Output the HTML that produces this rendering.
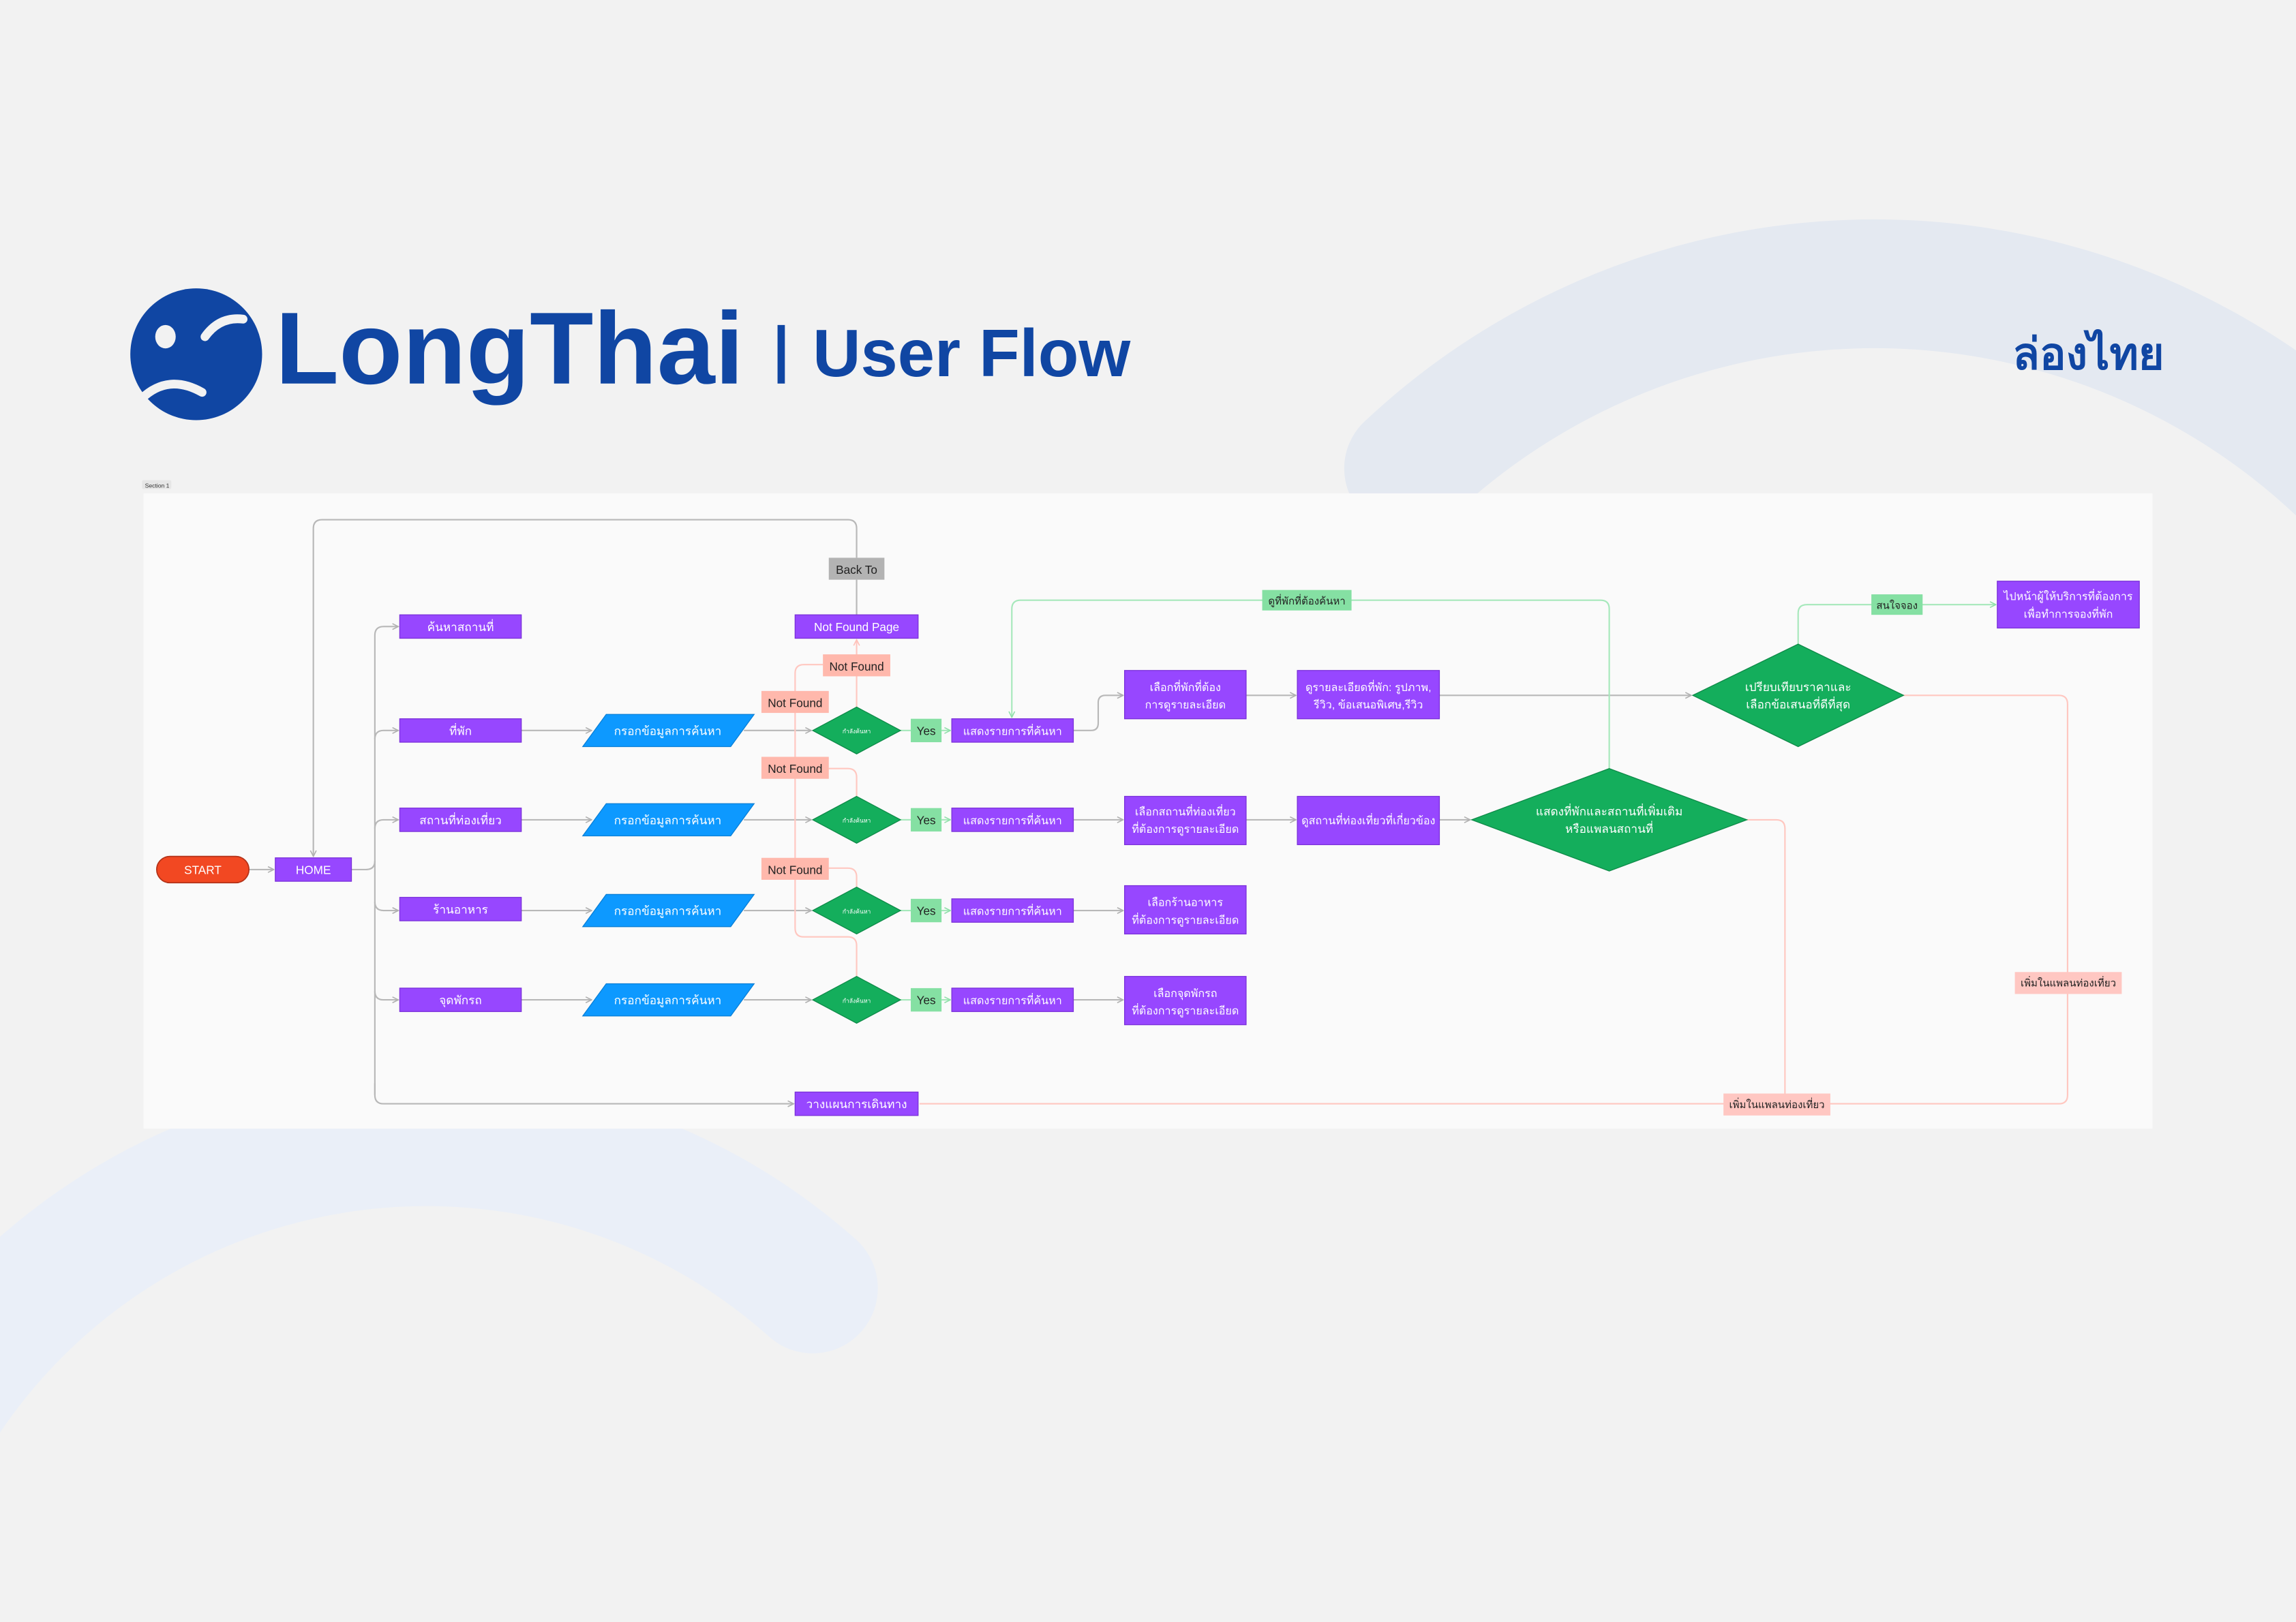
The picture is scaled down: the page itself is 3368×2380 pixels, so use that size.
<!DOCTYPE html>
<html><head><meta charset="utf-8"><style>
html,body{margin:0;padding:0;background:#f2f2f2;width:3368px;height:2380px;overflow:hidden;}
svg{display:block;}
text{font-family:"Liberation Sans","DejaVu Sans",sans-serif;}
</style></head><body>
<svg width="3368" height="2380" viewBox="0 0 1568 1108" xmlns="http://www.w3.org/2000/svg">
<defs>
<marker id="ag" viewBox="0 0 10 10" refX="9" refY="5" markerWidth="5" markerHeight="5" orient="auto"><path d="M1 1L9 5L1 9" fill="none" stroke="#b0b0b0" stroke-width="1.5"/></marker>
<marker id="agr" viewBox="0 0 10 10" refX="9" refY="5" markerWidth="5" markerHeight="5" orient="auto"><path d="M1 1L9 5L1 9" fill="none" stroke="#8fe0a9" stroke-width="1.5"/></marker>
<marker id="ap" viewBox="0 0 10 10" refX="9" refY="5" markerWidth="5" markerHeight="5" orient="auto"><path d="M1 1L9 5L1 9" fill="none" stroke="#ffc0b8" stroke-width="1.5"/></marker>
</defs>
<rect width="1568" height="1108" fill="#f2f2f2"/>
<!-- decorative arcs -->
<path d="M 962 320 A 464 464 0 0 1 1716 499" fill="none" stroke="#e4e9f1" stroke-width="88" stroke-linecap="round"/>
<path d="M -77 1321 A 396 396 0 0 1 555 880" fill="none" stroke="#eaeff8" stroke-width="89" stroke-linecap="round"/>
<!-- logo -->
<circle cx="134" cy="242" r="45" fill="#1046a3"/>
<ellipse cx="113" cy="230" rx="7" ry="8" fill="#f2f2f2"/>
<path d="M140 230 Q150 216 166 218" fill="none" stroke="#f2f2f2" stroke-width="6" stroke-linecap="round"/>
<path d="M97 272 Q115 255 138 268" fill="none" stroke="#f2f2f2" stroke-width="6" stroke-linecap="round"/>
<text x="188" y="262" font-size="70" font-weight="bold" fill="#1046a3" textLength="320" lengthAdjust="spacingAndGlyphs">LongThai</text>
<rect x="531" y="222" width="5" height="40" fill="#1046a3"/>
<text x="555" y="257" font-size="46" font-weight="bold" fill="#1046a3" textLength="217" lengthAdjust="spacingAndGlyphs">User Flow</text>
<text x="1478" y="252" font-size="30" font-weight="bold" fill="#1046a3" text-anchor="end">ล่องไทย</text>
<!-- section -->
<rect x="97" y="328" width="20" height="6" rx="1" fill="#e6e6e6"/>
<text x="99" y="333" font-size="4" fill="#333">Section 1</text>
<rect x="98" y="337" width="1372" height="434" fill="#fafafa"/>

<!-- gray connectors -->
<g fill="none" stroke="#b8b8b8" stroke-width="1">
<path d="M585 381 V361 Q585 355 579 355 H220 Q214 355 214 361 V585" marker-end="url(#ag)"/>
<path d="M585 420 V396"/>
<path d="M170 594 H187" marker-end="url(#ag)"/>
<path d="M240 594 H250 Q256 594 256 588"/>
<path d="M256 748 V434 Q256 428 262 428 H272" marker-end="url(#ag)"/>
<path d="M256 505 Q256 499 262 499 H272" marker-end="url(#ag)"/>
<path d="M256 566 Q256 560 262 560 H272" marker-end="url(#ag)"/>
<path d="M256 616 Q256 622 262 622 H272" marker-end="url(#ag)"/>
<path d="M256 677 Q256 683 262 683 H272" marker-end="url(#ag)"/>
<path d="M256 740 V748 Q256 754 262 754 H542" marker-end="url(#ag)"/>
<path d="M356 499 H404" marker-end="url(#ag)"/><path d="M356 560 H404" marker-end="url(#ag)"/>
<path d="M356 622 H404" marker-end="url(#ag)"/><path d="M356 683 H404" marker-end="url(#ag)"/>
<path d="M508 499 H554" marker-end="url(#ag)"/><path d="M508 560 H554" marker-end="url(#ag)"/>
<path d="M508 622 H554" marker-end="url(#ag)"/><path d="M508 683 H554" marker-end="url(#ag)"/>
<path d="M733 499 H745 Q750 499 750 494 V480 Q750 475 755 475 H767" marker-end="url(#ag)"/>
<path d="M733 560 H767" marker-end="url(#ag)"/><path d="M733 622 H767" marker-end="url(#ag)"/><path d="M733 683 H767" marker-end="url(#ag)"/>
<path d="M851 475 H885" marker-end="url(#ag)"/><path d="M851 560 H885" marker-end="url(#ag)"/>
<path d="M983 475 H1155" marker-end="url(#ag)"/><path d="M983 560 H1004" marker-end="url(#ag)"/>
</g>
<!-- green connectors -->
<g fill="none" stroke="#a6e8bb" stroke-width="1">
<path d="M615 499 H622"/><path d="M643 499 H649" marker-end="url(#agr)"/>
<path d="M615 560 H622"/><path d="M643 560 H649" marker-end="url(#agr)"/>
<path d="M615 622 H622"/><path d="M643 622 H649" marker-end="url(#agr)"/>
<path d="M615 683 H622"/><path d="M643 683 H649" marker-end="url(#agr)"/>
<path d="M1099 525 V416 Q1099 410 1093 410 H697 Q691 410 691 416 V490" marker-end="url(#agr)"/>
<path d="M1228 440 V419 Q1228 413 1234 413 H1363" marker-end="url(#agr)"/>
</g>
<!-- pink connectors -->
<g fill="none" stroke="#ffc7c0" stroke-width="1">
<path d="M585 483 V437" marker-end="url(#ap)"/>
<path d="M562 454 H549 Q543 454 543 460 V634 Q543 640 549 640 H579 Q585 640 585 646 V667"/>
<path d="M566 525 H579 Q585 525 585 531 V544"/>
<path d="M566 593 H579 Q585 593 585 599 V606"/>
<path d="M1300 475 H1406 Q1412 475 1412 481 V748 Q1412 754 1406 754 H628"/>
<path d="M1193 560 H1213 Q1219 560 1219 566 V754"/>
</g>

<!-- nodes -->
<g font-size="8" text-anchor="middle" fill="#fff">
<rect x="107" y="585" width="63" height="18" rx="9" fill="#f24822" stroke="#b33218" stroke-width="0.8"/><text x="138.5" y="597">START</text>
<g fill="#9747ff" stroke="#7a30d9" stroke-width="0.6">
<rect x="188" y="586" width="52" height="16"/>
<rect x="273" y="420" width="83" height="16"/><rect x="273" y="491" width="83" height="16"/>
<rect x="273" y="552" width="83" height="16"/><rect x="273" y="613" width="83" height="16"/>
<rect x="273" y="675" width="83" height="16"/>
<rect x="543" y="420" width="84" height="16"/><rect x="543" y="746" width="84" height="16"/>
<rect x="650" y="491" width="83" height="16"/><rect x="650" y="552" width="83" height="16"/>
<rect x="650" y="614" width="83" height="16"/><rect x="650" y="675" width="83" height="16"/>
<rect x="768" y="458" width="83" height="33"/><rect x="886" y="458" width="97" height="33"/>
<rect x="768" y="544" width="83" height="33"/><rect x="886" y="544" width="97" height="33"/>
<rect x="768" y="605" width="83" height="33"/><rect x="768" y="667" width="83" height="33"/>
<rect x="1364" y="397" width="97" height="32"/>
</g>
<text x="214" y="597">HOME</text>
<text x="314.5" y="431">ค้นหาสถานที่</text><text x="314.5" y="502">ที่พัก</text>
<text x="314.5" y="563">สถานที่ท่องเที่ยว</text><text x="314.5" y="624">ร้านอาหาร</text>
<text x="314.5" y="686">จุดพักรถ</text>
<text x="585" y="431">Not Found Page</text><text x="585" y="757">วางแผนการเดินทาง</text>
<g font-size="7.5">
<text x="691.5" y="502">แสดงรายการที่ค้นหา</text><text x="691.5" y="563">แสดงรายการที่ค้นหา</text>
<text x="691.5" y="625">แสดงรายการที่ค้นหา</text><text x="691.5" y="686">แสดงรายการที่ค้นหา</text>
<text x="809.5" y="472">เลือกที่พักที่ต้อง</text><text x="809.5" y="484">การดูรายละเอียด</text>
<text x="934.5" y="472">ดูรายละเอียดที่พัก: รูปภาพ,</text><text x="934.5" y="484">รีวิว, ข้อเสนอพิเศษ,รีวิว</text>
<text x="809.5" y="557">เลือกสถานที่ท่องเที่ยว</text><text x="809.5" y="569">ที่ต้องการดูรายละเอียด</text>
<text x="934.5" y="563">ดูสถานที่ท่องเที่ยวที่เกี่ยวข้อง</text>
<text x="809.5" y="619">เลือกร้านอาหาร</text><text x="809.5" y="631">ที่ต้องการดูรายละเอียด</text>
<text x="809.5" y="681">เลือกจุดพักรถ</text><text x="809.5" y="693">ที่ต้องการดูรายละเอียด</text>
<text x="1412.5" y="410">ไปหน้าผู้ให้บริการที่ต้องการ</text><text x="1412.5" y="422">เพื่อทำการจองที่พัก</text>
</g>
<!-- parallelograms -->
<g fill="#0d99ff" stroke="#0a7fd6" stroke-width="0.6">
<path d="M414 488H515L499 510H398Z"/><path d="M414 549H515L499 571H398Z"/>
<path d="M414 611H515L499 633H398Z"/><path d="M414 672H515L499 694H398Z"/>
</g>
<text x="456" y="502">กรอกข้อมูลการค้นหา</text><text x="456" y="563">กรอกข้อมูลการค้นหา</text>
<text x="456" y="625">กรอกข้อมูลการค้นหา</text><text x="456" y="686">กรอกข้อมูลการค้นหา</text>
<!-- diamonds -->
<g fill="#14ae5c" stroke="#0e8a48" stroke-width="0.6">
<path d="M585 483L615 499L585 515L555 499Z"/><path d="M585 544L615 560L585 576L555 560Z"/>
<path d="M585 606L615 622L585 638L555 622Z"/><path d="M585 667L615 683L585 699L555 683Z"/>
<path d="M1228 440L1300 475L1228 510L1156 475Z"/>
<path d="M1099 525L1193 560L1099 595L1005 560Z"/>
</g>
<g font-size="4"><text x="585" y="501">กำลังค้นหา</text><text x="585" y="562">กำลังค้นหา</text><text x="585" y="624">กำลังค้นหา</text><text x="585" y="685">กำลังค้นหา</text></g>
<text x="1228" y="472">เปรียบเทียบราคาและ</text><text x="1228" y="484">เลือกข้อเสนอที่ดีที่สุด</text>
<text x="1099" y="557">แสดงที่พักและสถานที่เพิ่มเติม</text><text x="1099" y="569">หรือแพลนสถานที่</text>
</g>
<!-- labels -->
<g font-size="8" text-anchor="middle" fill="#222">
<rect x="566" y="381" width="38" height="15" fill="#b3b3b3"/><text x="585" y="392">Back To</text>
<g fill="#ffb8ac"><rect x="562" y="447" width="46" height="15"/><rect x="520" y="472" width="46" height="15"/><rect x="520" y="517" width="46" height="15"/><rect x="520" y="586" width="46" height="15"/></g>
<text x="585" y="458">Not Found</text><text x="543" y="483">Not Found</text><text x="543" y="528">Not Found</text><text x="543" y="597">Not Found</text>
<g fill="#85e0a3"><rect x="622" y="491" width="21" height="16"/><rect x="622" y="552" width="21" height="16"/><rect x="622" y="614" width="21" height="16"/><rect x="622" y="675" width="21" height="16"/>
<rect x="862" y="403" width="61" height="14"/><rect x="1278" y="406" width="35" height="14"/></g>
<text x="632.5" y="502">Yes</text><text x="632.5" y="563">Yes</text><text x="632.5" y="625">Yes</text><text x="632.5" y="686">Yes</text>
<text x="892.5" y="413" font-size="7">ดูที่พักที่ต้องค้นหา</text><text x="1295.5" y="416" font-size="7">สนใจจอง</text>
<g fill="#ffc7c2"><rect x="1376" y="664" width="73" height="15"/><rect x="1177" y="747" width="73" height="15"/></g>
<text x="1412.5" y="674" font-size="7">เพิ่มในแพลนท่องเที่ยว</text><text x="1213.5" y="757" font-size="7">เพิ่มในแพลนท่องเที่ยว</text>
</g>
</svg>
</body></html>
